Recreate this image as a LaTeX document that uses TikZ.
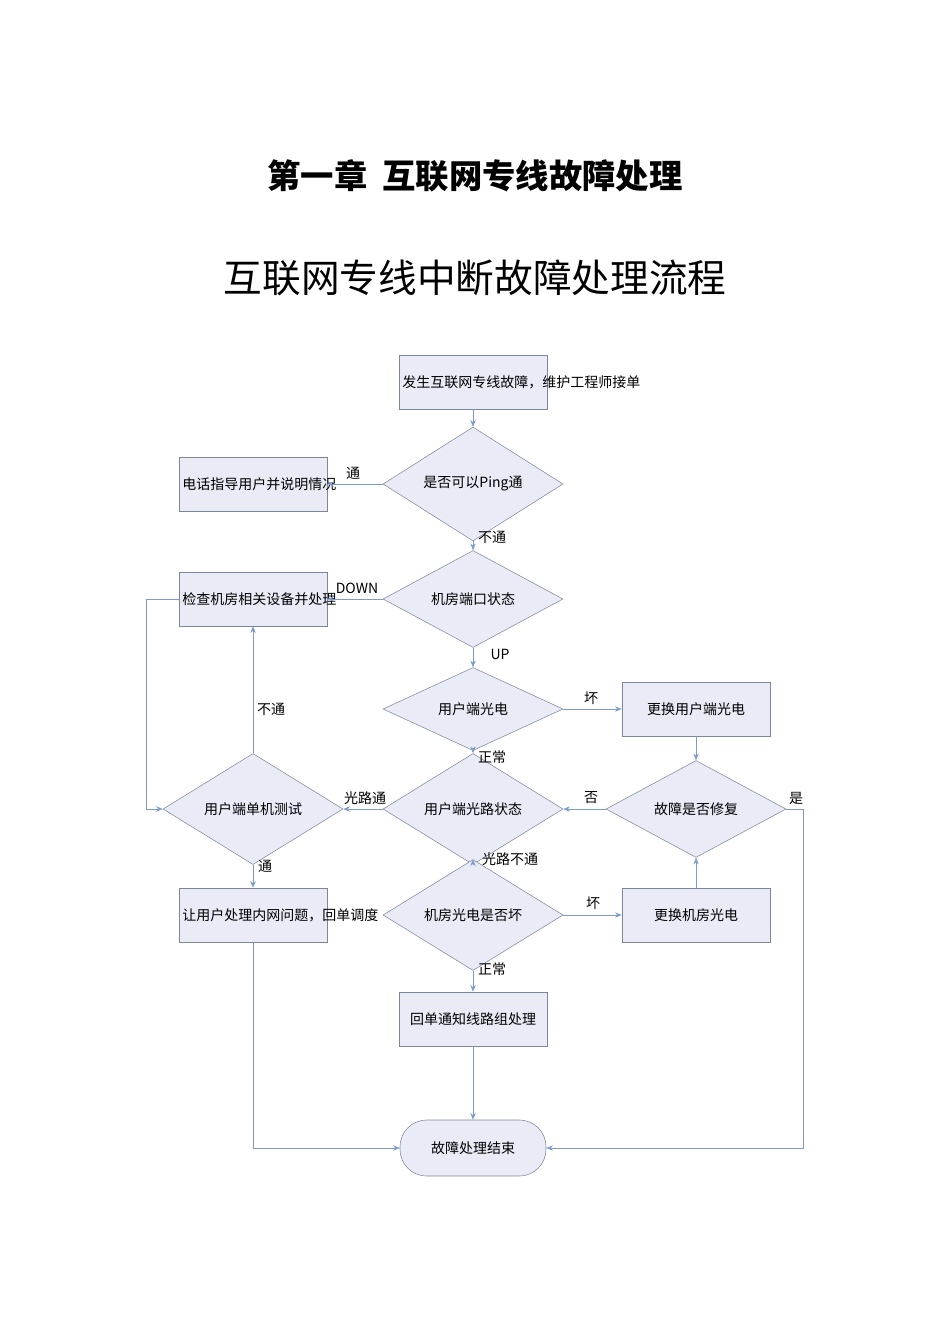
\documentclass[tikz,border=0pt]{standalone}
\usepackage{fontspec}
\setmainfont{Noto Sans CJK SC}
\usetikzlibrary{shapes.geometric,arrows.meta}
\definecolor{boxfill}{RGB}{233,236,246}
\definecolor{boxdraw}{RGB}{125,135,155}
\definecolor{lin}{RGB}{125,155,205}
\begin{document}
\begin{tikzpicture}[x=0.75pt,y=-0.75pt,
 every node/.style={font=\fontsize{10.5}{13}\selectfont},
 bx/.style={draw=boxdraw,fill=boxfill,minimum width=111pt,minimum height=40.5pt,text width=106pt,align=center,inner sep=1pt},
 dm/.style={diamond,draw=boxdraw,fill=boxfill,minimum width=135pt,minimum height=52.5pt,inner sep=0pt},
 term/.style={draw=boxdraw,fill=boxfill,rounded corners=20pt,minimum width=109.5pt,minimum height=42pt},
 ar/.style={draw=lin,-{Stealth[length=5pt,width=4pt]}},
 lb/.style={font=\fontsize{10.5}{13}\selectfont}]
\useasboundingbox (0,0) rectangle (950,1344);
\node[font=\bfseries\fontsize{25}{30}\selectfont] (t1) at (475,176) {第一章\ \ 互联网专线故障处理};
\node[font=\fontsize{29}{34}\selectfont] (t2) at (475,278) {互联网专线中断故障处理流程};
\node[bx] (s) at (473,382) {发生互联网专线故障，维护工程师接单};
\node[dm] (d1) at (473,484) {是否可以Ping通};
\node[bx] (b1) at (253,484) {电话指导用户并说明情况};
\node[dm] (d2) at (473,599) {机房端口状态};
\node[bx] (b2) at (253,599) {检查机房相关设备并处理};
\node[dm] (d3) at (473,709) {用户端光电};
\node[bx] (b3) at (696,709) {更换用户端光电};
\node[dm] (d4) at (473,809) {用户端光路状态};
\node[dm] (d5) at (696,809) {故障是否修复};
\node[dm] (d6) at (253,809) {用户端单机测试};
\node[bx] (b4) at (253,915) {让用户处理内网问题，回单调度};
\node[dm] (d7) at (473,915) {机房光电是否坏};
\node[bx] (b5) at (696,915) {更换机房光电};
\node[bx] (b6) at (473,1019) {回单通知线路组处理};
\node[term] (e) at (473,1148) {故障处理结束};
\coordinate (c1) at (803,809);
\coordinate (c2) at (803,1148);
\coordinate (c3) at (146,599);
\coordinate (c4) at (146,809);
\coordinate (c5) at (253,1148);
\draw[ar] (s) -- (d1);
\draw[ar] (d1) -- (b1);
\draw[ar] (d1) -- (d2);
\draw[ar] (d2) -- (b2);
\draw[ar] (d2) -- (d3);
\draw[ar] (d3) -- (b3);
\draw[ar] (d3) -- (d4);
\draw[ar] (b3) -- (d5);
\draw[ar] (d5) -- (d4);
\draw[ar] (d5.east) -- (c1) -- (c2) -- (e.east);
\draw[ar] (d4) -- (d6);
\draw[ar] (d6) -- (b2);
\draw[ar] (b2.west) -- (c3) -- (c4) -- (d6.west);
\draw[ar] (d6) -- (b4);
\draw[ar] (d4) -- (d7);
\draw[ar] (d7) -- (b5);
\draw[ar] (b5) -- (d5);
\draw[ar] (d7) -- (b6);
\draw[ar] (b6) -- (e);
\draw[ar] (b4.south) -- (c5) -- (e.west);
\node[lb] (l1) at (353,473) {通};
\node[lb] (l2) at (492,537) {不通};
\node[lb] (l3) at (357,588) {DOWN};
\node[lb] (l4) at (500,654) {UP};
\node[lb] (l5) at (591,698) {坏};
\node[lb] (l6) at (492,757) {正常};
\node[lb] (l7) at (591,798) {否};
\node[lb] (l8) at (796,798) {是};
\node[lb] (l9) at (365,798) {光路通};
\node[lb] (l10) at (271,709) {不通};
\node[lb] (l11) at (265,866) {通};
\node[lb] (l12) at (510,859) {光路不通};
\node[lb] (l13) at (593,903) {坏};
\node[lb] (l14) at (492,969) {正常};
\end{tikzpicture}
\end{document}
